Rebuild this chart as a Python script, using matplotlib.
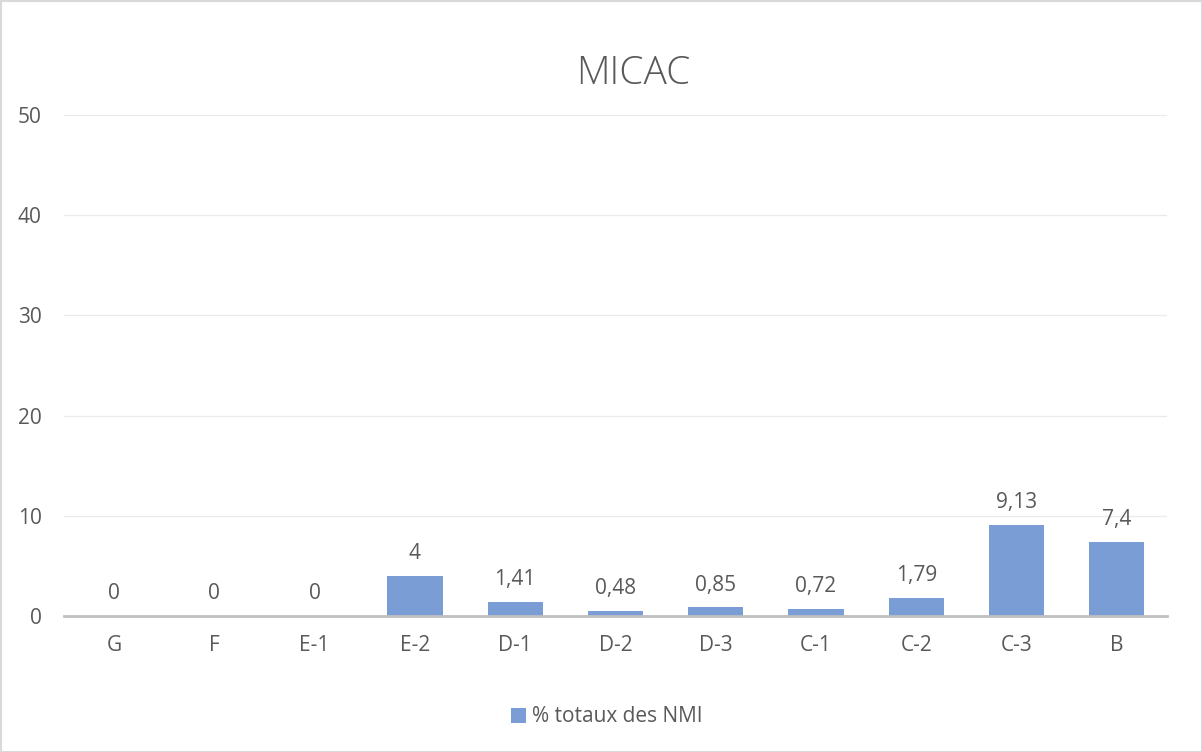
import matplotlib
matplotlib.use("Agg")
import matplotlib.pyplot as plt
from matplotlib.patches import Rectangle

categories = ["G", "F", "E-1", "E-2", "D-1", "D-2", "D-3", "C-1", "C-2", "C-3", "B"]
values = [0, 0, 0, 4, 1.41, 0.48, 0.85, 0.72, 1.79, 9.13, 7.4]
labels = ["0", "0", "0", "4", "1,41", "0,48", "0,85", "0,72", "1,79", "9,13", "7,4"]
yticks = [0, 10, 20, 30, 40, 50]
series_name = "% totaux des NMI"
title = "MICAC"

plt.rcParams['font.family'] = ['Open Sans', 'DejaVu Sans']
txt = "#595959"
bar_color = "#7A9DD6"

fig = plt.figure(figsize=(12.02, 7.52), dpi=100)
ax = fig.add_axes([64/1202, 1-616/752, (1167-64)/1202, (616-115)/752])

x = list(range(len(categories)))
ax.bar(x, values, width=0.55, color=bar_color, zorder=3, label=series_name)
for xi, v, l in zip(x, values, labels):
    ax.annotate(l, (xi, v), xytext=(0, 8.5), textcoords="offset points",
                ha="center", va="bottom", fontsize=15, color=txt)

ax.set_xlim(-0.5, len(categories) - 0.5)
ax.set_ylim(0, 50)
ax.set_yticks(yticks)
ax.set_yticklabels([str(t) for t in yticks])
ax.set_xticks(x)
ax.set_xticklabels(categories)
ax.tick_params(axis="both", length=0, labelsize=15, colors=txt)
ax.tick_params(axis="x", pad=14)
ax.tick_params(axis="y", pad=16)
ax.grid(axis="y", color="#EBEBEB", linewidth=1, zorder=0)
for s in ["top", "right", "left"]:
    ax.spines[s].set_visible(False)
ax.spines["bottom"].set_color("#BFBFBF")
ax.spines["bottom"].set_linewidth(2)
ax.spines["bottom"].set_zorder(4)

fig.text(633/1202, 1-74/752, title, ha="center", va="center", fontsize=28,
         fontweight="light", color=txt)

leg = fig.legend(loc="center", bbox_to_anchor=(607/1202, 1-717/752), frameon=False,
                 fontsize=15, handlelength=0.7, handleheight=0.7, handletextpad=0.3)
for t in leg.get_texts():
    t.set_color(txt)

fig.patches.append(Rectangle((0.5/1202, 0.5/752), 1-1/1202, 1-1/752, transform=fig.transFigure,
                             fill=False, edgecolor="#D9D9D9", linewidth=1.5))

fig.savefig("out.png", dpi=100)
